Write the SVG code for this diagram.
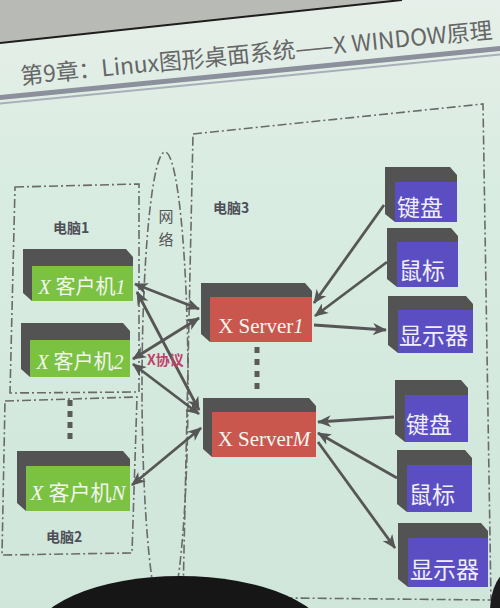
<svg xmlns="http://www.w3.org/2000/svg" width="500" height="608" viewBox="0 0 500 608">
<defs>
<linearGradient id="bg" x1="0" y1="0" x2="0" y2="1">
<stop offset="0" stop-color="#e6efe9"/>
<stop offset="0.3" stop-color="#d9ece2"/>
<stop offset="1" stop-color="#d0e6da"/>
</linearGradient>
<marker id="ah" markerUnits="userSpaceOnUse" markerWidth="14" markerHeight="12" refX="13" refY="6" orient="auto-start-reverse">
<path d="M0,0 L14,6 L0,12 L4,6 Z" fill="#565656"/>
</marker>
<style>
.back{fill:#535353}
.cl{fill:#7bc243}
.sv{fill:#c9574e}
.dv{fill:#5a4ec2}
.nt{font-family:"Liberation Serif","Noto Sans CJK SC",serif;fill:#f2f5ee}
.cjk{font-family:"Noto Sans CJK SC",sans-serif;fill:#f0eef8;font-size:23px}
.box{fill:none;stroke:#6a6a6a;stroke-width:1.6;stroke-dasharray:9 3 2 3}
.lab{font-family:"Noto Sans CJK SC",sans-serif;font-weight:bold;fill:#4e4f58;font-size:14px}
.net{font-family:"Noto Sans CJK SC",sans-serif;font-weight:normal;fill:#555;font-size:15px}
.con line{stroke:#565656;stroke-width:2.8}
</style>
</defs>
<rect x="0" y="0" width="500" height="608" fill="url(#bg)"/>
<polygon points="0,0 402,0 0,43" fill="#b8bbb5"/>
<line x1="0" y1="43" x2="402" y2="0" stroke="#1e1e1e" stroke-width="2"/>
<g id="header" transform="rotate(-5.6 250 60)">
<text x="20" y="62" font-family="Noto Sans CJK SC,sans-serif" font-size="23" fill="#666" textLength="474" lengthAdjust="spacingAndGlyphs">第9章：Linux图形桌面系统——X WINDOW原理</text>
<line x1="-10" y1="73" x2="520" y2="73" stroke="#8b909c" stroke-width="5"/>
<line x1="-10" y1="79" x2="520" y2="79" stroke="#a9afb8" stroke-width="2"/>
</g>

<g id="computer1"><path class="box" d="M15,187 L139,184 L139,392 L10,393 Z"/><text class="lab" x="53" y="233">电脑1</text></g>
<g id="computer2"><path class="box" d="M5,401 L137,397 L132,553 L2,555 Z"/><text class="lab" x="46" y="542" font-size="15">电脑2</text></g>
<g id="computer3"><path class="box" d="M193,134 L483,104 L491,600 L183,597 Z"/><text class="lab" x="213" y="213">电脑3</text></g>
<g id="network"><ellipse class="box" cx="165" cy="386" rx="23" ry="234"/>
<text class="net" x="166" y="222" text-anchor="middle">网</text>
<text class="net" x="166" y="245" text-anchor="middle">络</text></g>

<g id="client1"><polygon class="back" points="23,249 126,249 133,257 133,301 32,301 23,293"/><rect class="cl" x="32" y="266" width="101" height="35"/>
<text class="nt" x="82" y="294" font-size="20" text-anchor="middle"><tspan font-style="italic">X</tspan> 客户机<tspan font-style="italic">1</tspan></text></g>
<g id="client2"><polygon class="back" points="21,323 123,323 130,331 130,377 30,377 21,369"/><rect class="cl" x="30" y="340" width="100" height="37"/>
<text class="nt" x="80" y="369" font-size="20" text-anchor="middle"><tspan font-style="italic">X</tspan> 客户机<tspan font-style="italic">2</tspan></text></g>
<g id="dotsC"><line x1="70" y1="400" x2="70" y2="440" stroke="#5a5a5a" stroke-width="5" stroke-dasharray="6 5"/></g>
<g id="clientN"><polygon class="back" points="17,451 123,451 130,459 130,511 26,511 17,503"/><rect class="cl" x="26" y="466" width="104" height="45"/>
<text class="nt" x="78" y="500" font-size="21" text-anchor="middle"><tspan font-style="italic">X</tspan> 客户机<tspan font-style="italic">N</tspan></text></g>

<g id="server1"><polygon class="back" points="201,283 305,283 312,291 312,342 210,342 201,334"/><rect class="sv" x="210" y="297" width="102" height="45"/>
<text class="nt" x="261" y="333" font-size="21" text-anchor="middle">X Server<tspan font-style="italic">1</tspan></text></g>
<g id="dotsS"><line x1="257" y1="347" x2="257" y2="391" stroke="#5a5a5a" stroke-width="5" stroke-dasharray="6 6"/></g>
<g id="serverM"><polygon class="back" points="203,398 309,398 316,406 316,457 212,457 203,449"/><rect class="sv" x="212" y="412" width="104" height="45"/>
<text class="nt" x="264" y="446" font-size="21" text-anchor="middle">X Server<tspan font-style="italic">M</tspan></text></g>

<g id="kbd1"><polygon class="back" points="385,167 450,167 457,175 457,222 395,222 385,214"/><rect class="dv" x="395" y="182" width="62" height="40"/><text class="cjk" x="397" y="216" font-size="22">键盘</text></g>
<g id="mouse1"><polygon class="back" points="387,228 451,228 458,236 458,287 397,287 387,279"/><rect class="dv" x="397" y="242" width="61" height="45"/><text class="cjk" x="399" y="279" font-size="22">鼠标</text></g>
<g id="disp1"><polygon class="back" points="388,296 466,296 473,304 473,353 398,353 388,345"/><rect class="dv" x="398" y="310" width="75" height="43"/><text class="cjk" x="399" y="344">显示器</text></g>
<g id="kbd2"><polygon class="back" points="395,380 461,380 468,388 468,442 405,442 395,434"/><rect class="dv" x="405" y="395" width="63" height="47"/><text class="cjk" x="406" y="433">键盘</text></g>
<g id="mouse2"><polygon class="back" points="397,450 465,450 472,458 472,512 407,512 397,504"/><rect class="dv" x="407" y="465" width="65" height="47"/><text class="cjk" x="409" y="503">鼠标</text></g>
<g id="disp2"><polygon class="back" points="398,523 481,523 488,531 488,587 408,587 398,579"/><rect class="dv" x="408" y="538" width="80" height="49"/><text class="cjk" x="410" y="578" font-size="24">显示器</text></g>

<g id="connectors" class="con">
<line x1="135" y1="284" x2="199" y2="309" marker-start="url(#ah)" marker-end="url(#ah)"/>
<line x1="137" y1="292" x2="199" y2="410" marker-start="url(#ah)" marker-end="url(#ah)"/>
<line x1="133" y1="359" x2="199" y2="318" marker-start="url(#ah)" marker-end="url(#ah)"/>
<line x1="133" y1="364" x2="199" y2="414" marker-start="url(#ah)" marker-end="url(#ah)"/>
<line x1="132" y1="485" x2="201" y2="428" marker-start="url(#ah)" marker-end="url(#ah)"/>
<line x1="384" y1="205" x2="314" y2="303" marker-end="url(#ah)"/>
<line x1="387" y1="262" x2="315" y2="316" marker-end="url(#ah)"/>
<line x1="314" y1="325" x2="386" y2="330" marker-end="url(#ah)"/>
<line x1="394" y1="417" x2="318" y2="422" marker-end="url(#ah)"/>
<line x1="397" y1="478" x2="318" y2="433" marker-end="url(#ah)"/>
<line x1="318" y1="442" x2="395" y2="548" marker-end="url(#ah)"/>
</g>
<g id="xproto"><text x="147" y="365" font-family="Noto Sans CJK SC,sans-serif" font-weight="bold" font-size="14" fill="#c2416c">X协议</text></g>

<ellipse cx="180" cy="642" rx="150" ry="66" fill="#161616"/>
<ellipse cx="512" cy="612" rx="22" ry="42" fill="#1c1c1c"/>
</svg>
